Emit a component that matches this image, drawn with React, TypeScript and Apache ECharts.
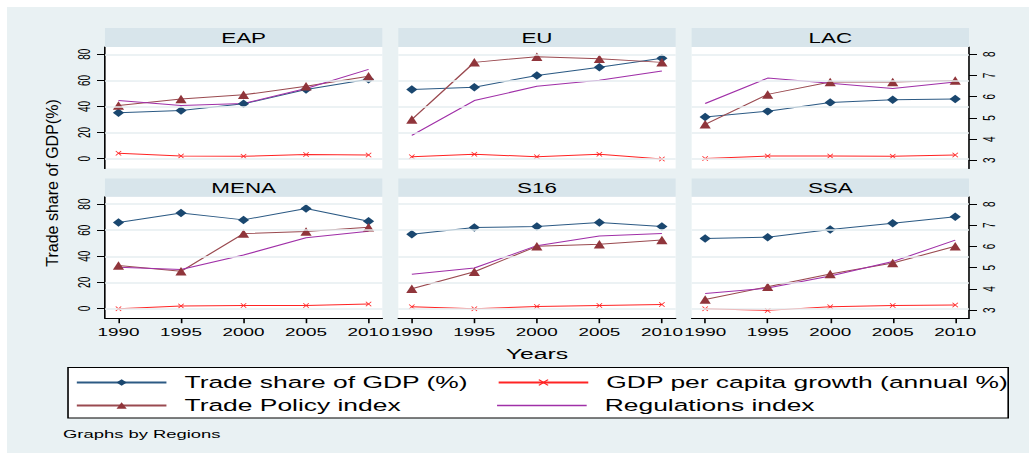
import React, { useEffect, useRef } from "react";
import * as echarts from "echarts";

// ---------- data ----------
const years = [1990, 1995, 2000, 2005, 2010];
const regions = ["EAP", "EU", "LAC", "MENA", "S16", "SSA"];
const seriesNames = [
  "Trade share of GDP (%)",
  "GDP per capita growth (annual %)",
  "Trade Policy index",
  "Regulations index",
];
const leftTicks = [0, 20, 40, 60, 80];
const rightTicks = [3, 4, 5, 6, 7, 8];

// rows follow the order of `regions`
const tradeShare: number[][] = [
  [35.1, 36.9, 42.0, 53.0, 60.8], // EAP
  [53.1, 54.8, 63.8, 70.0, 76.9], // EU
  [32.0, 36.4, 43.1, 45.1, 45.8], // LAC
  [65.9, 73.1, 67.9, 76.7, 66.9], // MENA
  [56.9, 62.1, 62.8, 65.9, 62.8], // S16
  [53.6, 54.6, 60.5, 65.4, 70.3], // SSA
];
const gdpGrowth: number[][] = [
  [4.1, 2.0, 1.8, 3.1, 2.8],
  [1.5, 3.3, 1.5, 3.3, -0.2],
  [0.0, 2.0, 2.0, 1.8, 2.8],
  [-0.3, 1.8, 2.3, 2.3, 3.3],
  [1.3, -0.3, 1.5, 2.3, 3.1],
  [-0.3, -1.5, 1.3, 2.3, 2.6],
];
const tradePolicy: number[][] = [
  [5.59, 5.89, 6.09, 6.49, 6.97],
  [4.93, 7.62, 7.89, 7.79, 7.62],
  [4.7, 6.11, 6.69, 6.69, 6.77],
  [5.1, 4.83, 6.61, 6.71, 6.91],
  [4.01, 4.81, 6.01, 6.11, 6.31],
  [3.5, 4.1, 4.7, 5.22, 6.01],
];
const regulations: number[][] = [
  [5.82, 5.59, 5.68, 6.39, 7.29],
  [4.18, 5.82, 6.49, 6.78, 7.21],
  [5.68, 6.88, 6.63, 6.39, 6.69],
  [5.02, 4.92, 5.6, 6.41, 6.72],
  [4.69, 4.99, 6.04, 6.5, 6.61],
  [3.79, 4.04, 4.61, 5.29, 6.3],
];

// ---------- layout ----------
const W = 643;
const H = 454;
const S = 1029 / W;
const FONT = "'Liberation Sans', Arial, Helvetica, sans-serif";
const colLeft = [65.6, 248.9, 432.2];
const colW = 173.3;
const rowTop = [47, 196.8];
const rowH = 121.4;
const headTop = [28, 178.5];
const headH = [19, 18.3];

const C_BLUE = "#1a476f";
const C_RED = "#ff2424";
const C_MAROON = "#90353b";
const C_PURPLE = "#a030a8";
const X_SYMBOL = "path://M0,1L1,0L5,4L9,0L10,1L6,5L10,9L9,10L5,6L1,10L0,9L4,5Z";

function pts(vals: number[]) {
  return years.map((y, k) => [y, vals[k]]);
}

function buildOption() {
  const grid: any[] = [];
  const xAxis: any[] = [];
  const yAxis: any[] = [];
  const series: any[] = [];
  const graphic: any[] = [];

  graphic.push({
    type: "rect",
    z: -10,
    shape: { x: 4.4, y: 7, width: W - 4.4, height: 446 },
    style: { fill: "#e9f1f3" },
  });

  regions.forEach((reg, i) => {
    const r = Math.floor(i / 3);
    const c = i % 3;
    grid.push({
      left: colLeft[c],
      top: rowTop[r],
      width: colW,
      height: rowH,
      show: true,
      backgroundColor: "#ffffff",
      borderWidth: 0,
    });
    xAxis.push({
      type: "value",
      gridIndex: i,
      min: 1988.92,
      max: 2011.1,
      axisLine: { show: r === 1, onZero: false, lineStyle: { color: "#000", width: 1 } },
      axisTick: { show: r === 1, length: 5, customValues: years, lineStyle: { color: "#000" } },
      axisLabel: {
        show: r === 1,
        customValues: years,
        formatter: (v: number) => String(v),
        margin: 8,
        fontSize: 11.8,
        color: "#000",
        fontFamily: FONT,
      },
      splitLine: { show: false },
    });
    yAxis.push({
      type: "value",
      gridIndex: i,
      position: "left",
      min: -7.5,
      max: 85.6,
      show: c === 0,
      axisLine: { show: true, onZero: false, lineStyle: { color: "#000", width: 1 } },
      axisTick: { show: true, length: 5, customValues: leftTicks, lineStyle: { color: "#000" } },
      axisLabel: {
        customValues: leftTicks,
        rotate: 90,
        margin: 8,
        fontSize: 10,
        color: "#000",
        fontFamily: FONT,
      },
      splitLine: { show: false },
    });
    yAxis.push({
      type: "value",
      gridIndex: i,
      position: "right",
      min: 2.62,
      max: 8.345,
      show: c === 2,
      axisLine: { show: true, onZero: false, lineStyle: { color: "#000", width: 1 } },
      axisTick: { show: true, length: 5, customValues: rightTicks, lineStyle: { color: "#000" } },
      axisLabel: {
        customValues: rightTicks,
        rotate: 90,
        margin: 8,
        fontSize: 10,
        color: "#000",
        fontFamily: FONT,
      },
      splitLine: { show: false },
    });

    // grid lines (left axis ticks) through the library scale
    series.push({
      type: "line",
      name: "grid",
      xAxisIndex: i,
      yAxisIndex: 2 * i,
      data: pts(tradeShare[i]),
      symbol: "none",
      lineStyle: { opacity: 0 },
      silent: true,
      z: 1,
      markLine: {
        silent: true,
        symbol: ["none", "none"],
        label: { show: false },
        lineStyle: { color: "#e6eef1", width: 1.5, type: "solid" },
        data: leftTicks.map((v) => ({ yAxis: v })),
      },
    });
    series.push({
      type: "line",
      name: seriesNames[0],
      xAxisIndex: i,
      yAxisIndex: 2 * i,
      data: pts(tradeShare[i]),
      symbol: "diamond",
      symbolSize: [7, 8.5],
      itemStyle: { color: C_BLUE },
      lineStyle: { color: "#2c5a84", width: 1 },
      z: 3,
    });
    series.push({
      type: "line",
      name: seriesNames[1],
      xAxisIndex: i,
      yAxisIndex: 2 * i,
      data: pts(gdpGrowth[i]),
      symbol: X_SYMBOL,
      symbolSize: [3.8, 5],
      itemStyle: { color: C_RED },
      lineStyle: { color: C_RED, width: 1 },
      z: 3,
    });
    series.push({
      type: "line",
      name: seriesNames[2],
      xAxisIndex: i,
      yAxisIndex: 2 * i + 1,
      data: pts(tradePolicy[i]),
      symbol: "triangle",
      symbolSize: [7, 8.5],
      itemStyle: { color: C_MAROON },
      lineStyle: { color: "#9a4a50", width: 1 },
      z: 3,
    });
    series.push({
      type: "line",
      name: seriesNames[3],
      xAxisIndex: i,
      yAxisIndex: 2 * i + 1,
      data: pts(regulations[i]),
      symbol: "none",
      itemStyle: { color: C_PURPLE },
      lineStyle: { color: C_PURPLE, width: 1 },
      z: 3,
    });

    graphic.push({
      type: "rect",
      z: 1,
      shape: { x: colLeft[c], y: headTop[r], width: colW, height: headH[r] },
      style: { fill: "#d8e5eb" },
    });
    graphic.push({
      type: "text",
      z: 2,
      x: colLeft[c] + colW / 2,
      y: headTop[r] + headH[r] / 2 + 0.5,
      style: {
        text: reg,
        fill: "#000",
        fontSize: 14,
        fontFamily: FONT,
        align: "center",
        verticalAlign: "middle",
      },
    });
  });

  graphic.push({
    type: "text",
    z: 2,
    x: 32.5,
    y: 183,
    rotation: Math.PI / 2,
    scaleX: 1.6,
    style: {
      text: "Trade share of GDP(%)",
      fill: "#000",
      fontSize: 10,
      fontFamily: FONT,
      align: "center",
      verticalAlign: "middle",
    },
  });
  graphic.push({
    type: "text",
    z: 2,
    x: colLeft[1] + colW / 2,
    y: 353,
    style: {
      text: "Years",
      fill: "#000",
      fontSize: 15.5,
      fontFamily: FONT,
      align: "center",
      verticalAlign: "middle",
    },
  });
  graphic.push({
    type: "rect",
    z: 1,
    shape: { x: 42.5, y: 367.5, width: 587.5, height: 50.5 },
    style: { fill: "#ffffff", stroke: "#000", lineWidth: 1 },
  });
  graphic.push({
    type: "text",
    z: 2,
    x: 39.4,
    y: 434,
    style: {
      text: "Graphs by Regions",
      fill: "#000",
      fontSize: 11.5,
      fontFamily: FONT,
      align: "left",
      verticalAlign: "middle",
    },
  });

  const row1 = 382;
  const row2 = 405;
  const legendBase = {
    orient: "vertical",
    itemWidth: 56,
    itemHeight: 8,
    z: 5,
    padding: 0,
    selectedMode: false,
    textStyle: { fontSize: 16.5, fontFamily: FONT, color: "#000", padding: [0, 0, 0, 6.3] },
  };

  return {
    animation: false,
    backgroundColor: "#ffffff",
    grid,
    xAxis,
    yAxis,
    series,
    graphic,
    legend: [
      { ...legendBase, left: 47, top: row1 - 8, data: [seriesNames[0]] },
      { ...legendBase, left: 47, top: row2 - 8, data: [seriesNames[2]] },
      { ...legendBase, left: 310.6, top: row1 - 8, data: [seriesNames[1]] },
      {
        ...legendBase,
        left: 310.6,
        top: row2 - 8,
        itemHeight: 1.5,
        itemStyle: { color: C_PURPLE, borderWidth: 0, opacity: 1 },
        data: [
          {
            name: seriesNames[3],
            icon: "rect",
            itemStyle: { color: C_PURPLE, borderWidth: 0, opacity: 1 },
          },
        ],
      },
    ],
  };
}

export default function App() {
  const ref = useRef<HTMLDivElement>(null);
  useEffect(() => {
    const chart = echarts.init(ref.current as HTMLDivElement, null, { renderer: "svg" });
    chart.setOption(buildOption() as any);
    return () => chart.dispose();
  }, []);
  return (
    <div
      ref={ref}
      style={{
        position: "absolute",
        left: 0,
        top: 0,
        width: W,
        height: H,
        transform: `scaleX(${S})`,
        transformOrigin: "0 0",
      }}
    />
  );
}
